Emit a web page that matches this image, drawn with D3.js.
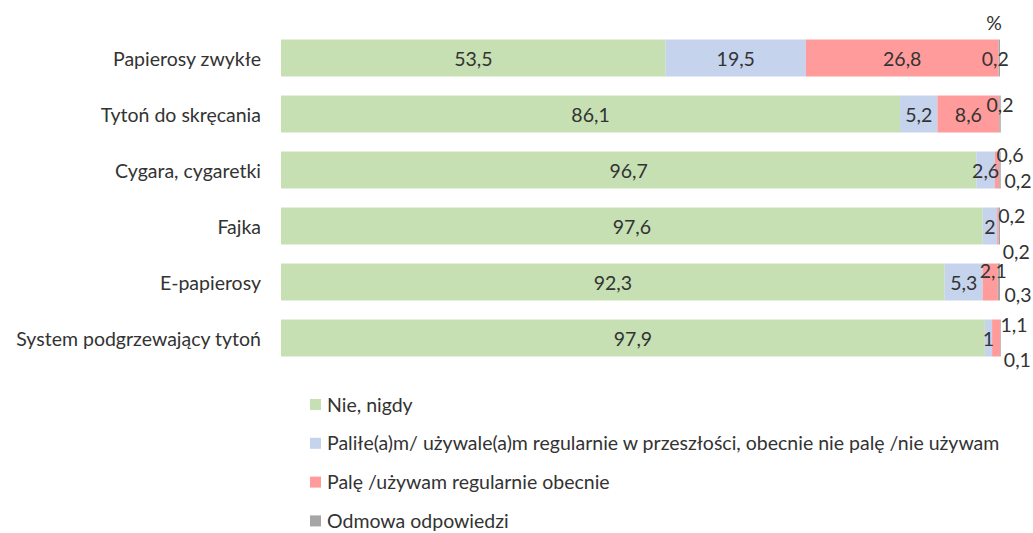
<!DOCTYPE html>
<html>
<head>
<meta charset="utf-8">
<script src="https://cdn.jsdelivr.net/npm/d3@7"></script>
<style>
  body { margin: 0; background: #fff; }
  text { font-family: Lato, "Open Sans", sans-serif; fill: #333333; }
</style>
</head>
<body>
<div id="svg-container"></div>
<script>
// data
const categories = ["Papierosy zwykłe", "Tytoń do skręcania", "Cygara, cygaretki", "Fajka", "E-papierosy", "System podgrzewający tytoń"]
const seriesNames = ["Nie, nigdy", "Paliłe(a)m/ używale(a)m regularnie w przeszłości, obecnie nie palę /nie używam", "Palę /używam regularnie obecnie", "Odmowa odpowiedzi"]
const never = [53.5, 86.1, 96.7, 97.6, 92.3, 97.9]
const past = [19.5, 5.2, 2.6, 2, 5.3, 1]
const current = [26.8, 8.6, 0.6, 0.2, 2.1, 1.1]
const refused = [0.2, 0.2, 0.2, 0.2, 0.3, 0.1]

const keys = ["never", "past", "current", "refused"]
const colors = ["#c6e0b4", "#c5d3ec", "#ff9b9b", "#a6a6a6"]

// label nudges for the tiny segments (category index -> key -> [dx, dy])
const nudge = {
  0: {refused: [-4, 0]},
  1: {refused: [0, -10]},
  2: {current: [13, -16], refused: [18, 10]},
  3: {current: [14, -11], refused: [17, 25]},
  4: {current: [3, -12], refused: [19, 12]},
  5: {current: [18, -14], refused: [17, 21]}
}

const fontSize = "19.5px"

const dim = { width: 1033, height: 533, margin: { left: 281, top: 40 } }
const plotW = 719

const svg = d3.select("#svg-container")
  .append("svg")
    .attr("width", dim.width)
    .attr("height", dim.height)

const rows = categories.map((c, i) => ({
  cat: c, i: i, never: never[i], past: past[i], current: current[i], refused: refused[i]
}))

const stacked = d3.stack().keys(keys)(rows)

const xScale = d3.scaleLinear()
  .domain([0, 100])
  .range([dim.margin.left, dim.margin.left + plotW])

const yScale = d3.scaleBand()
  .domain(categories)
  .range([dim.margin.top - 10, dim.margin.top - 10 + 6 * 56])
  .paddingInner(0.34)
  .paddingOuter(0.17)

const fmt = v => String(v).replace(".", ",")

// bars
svg.append("g")
  .selectAll("g")
  .data(stacked)
  .join("g")
    .attr("fill", (d, i) => colors[i])
    .selectAll("rect")
    .data(d => d)
    .join("rect")
      .attr("x", d => xScale(d[0]))
      .attr("y", d => yScale(d.data.cat))
      .attr("width", d => xScale(d[1]) - xScale(d[0]))
      .attr("height", yScale.bandwidth())

// data labels
stacked.forEach(layer => {
  svg.append("g")
    .selectAll("text")
    .data(layer)
    .join("text")
      .attr("x", d => {
        const n = (nudge[d.data.i] || {})[layer.key]
        return (xScale(d[0]) + xScale(d[1])) / 2 + (n ? n[0] : 0)
      })
      .attr("y", d => {
        const n = (nudge[d.data.i] || {})[layer.key]
        return yScale(d.data.cat) + yScale.bandwidth() / 2 + (n ? n[1] : 0)
      })
      .attr("text-anchor", "middle")
      .attr("dominant-baseline", "central")
      .style("font-size", fontSize)
      .text(d => fmt(d.data[layer.key]))
})

// category axis labels
svg.append("g")
  .selectAll("text")
  .data(categories)
  .join("text")
    .attr("x", 261)
    .attr("y", d => yScale(d) + yScale.bandwidth() / 2)
    .attr("text-anchor", "end")
    .attr("dominant-baseline", "central")
    .style("font-size", fontSize)
    .text(d => d)

// percent marker
svg.append("text")
  .attr("x", 994)
  .attr("y", 22)
  .attr("text-anchor", "middle")
  .attr("dominant-baseline", "central")
  .style("font-size", fontSize)
  .text("%")

// legend
const legend = svg.append("g")
  .selectAll("g")
  .data(seriesNames)
  .join("g")
    .attr("transform", (d, i) => `translate(310, ${404 + i * 38.8})`)

legend.append("rect")
  .attr("x", 0)
  .attr("y", -5)
  .attr("width", 11)
  .attr("height", 11)
  .attr("fill", (d, i) => colors[i])

legend.append("text")
  .attr("x", 17)
  .attr("y", 0)
  .attr("dominant-baseline", "central")
  .style("font-size", fontSize)
  .text(d => d)
</script>
</body>
</html>
